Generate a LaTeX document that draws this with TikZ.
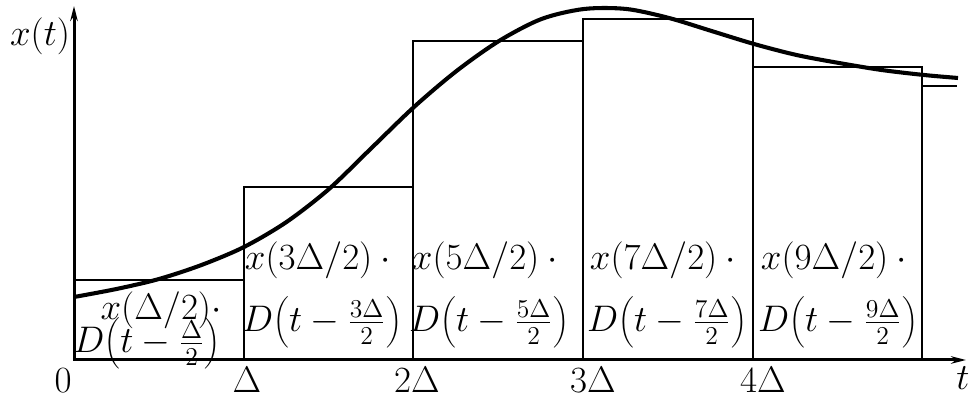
\documentclass[tikz,border=0pt]{standalone}
\usetikzlibrary{arrows.meta}
\begin{document}
\begin{tikzpicture}[x=0.467pt,y=-0.467pt,
  axisline/.style={line width=1.4pt,-{Stealth[length=7pt,width=3.5pt]}},
  bar/.style={line width=0.95pt},
  sig/.style={line width=1.9pt},
  lbl/.style={anchor=base,inner sep=0pt,font=\LARGE}]
\useasboundingbox (0,0) rectangle (970,397);
% bars
\draw[bar] (74,360) rectangle (244,280);
\draw[bar] (244,360) rectangle (413,187);
\draw[bar] (413,360) rectangle (583,41);
\draw[bar] (583,360) rectangle (753,19);
\draw[bar] (753,360) rectangle (922,67);
\draw[bar] (922,86) -- (957,86);
% axes
\coordinate (o) at (74,360);
\coordinate (xe) at (966,360);
\coordinate (ye) at (74,6);
\draw[axisline] (o) -- (xe);
\draw[axisline] (o) -- (ye);
% signal
\draw[sig] plot[smooth,tension=0.5] coordinates {(74,297) (116.5,289) (159,279) (201.5,265) (244,247) (286.5,222) (329,189) (371.5,148) (414,107) (456.5,71) (499,41) (541.5,19) (584,9) (626.5,9) (669,18) (711.5,31) (754,44) (796.5,55) (839,63) (881.5,70) (924,75) (958,78)};
% labels
\node[lbl] (xt) at (40,46) {$x(t)$};
\node[lbl] (l0) at (63,392) {$0$};
\node[lbl] (l1) at (247,392) {$\Delta$};
\node[lbl] (l2) at (417,392) {$2\Delta$};
\node[lbl] (l3) at (593,392) {$3\Delta$};
\node[lbl] (l4) at (763,392) {$4\Delta$};
\node[lbl] (lt) at (963,390) {$t$};
% box texts
\node[lbl] (a1) at (161,320) {$x(\Delta/2)\cdot$};
\node[lbl] (b1) at (147,353) {$D\!\left(t-\frac{\Delta}{2}\right)$};
\node[lbl] (a2) at (322,270) {$x(3\Delta/2)\cdot{}$};
\node[lbl] (b2) at (322,332) {$D\!\left(t-\frac{3\Delta}{2}\right)$};
\node[lbl] (a3) at (489,270) {$x(5\Delta/2)\cdot{}$};
\node[lbl] (b3) at (489,332) {$D\!\left(t-\frac{5\Delta}{2}\right)$};
\node[lbl] (a4) at (667,270) {$x(7\Delta/2)\cdot{}$};
\node[lbl] (b4) at (667,332) {$D\!\left(t-\frac{7\Delta}{2}\right)$};
\node[lbl] (a5) at (838,270) {$x(9\Delta/2)\cdot{}$};
\node[lbl] (b5) at (838,332) {$D\!\left(t-\frac{9\Delta}{2}\right)$};
\end{tikzpicture}
\end{document}
